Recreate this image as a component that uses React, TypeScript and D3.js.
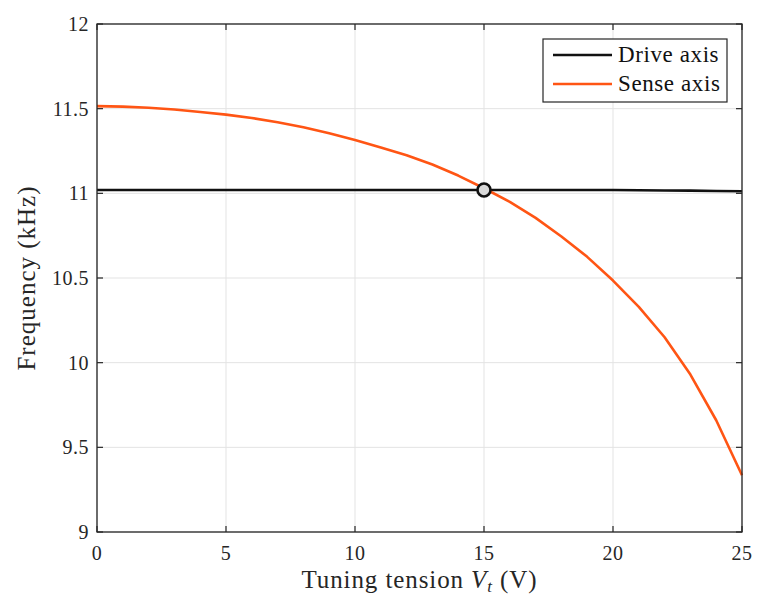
import React from "react";
import * as d3 from "d3";

const voltages = [0,1,2,3,4,5,6,7,8,9,10,11,12,13,14,15,16,17,18,19,20,21,22,23,24,25];
const senseFreq = [11.515,11.512,11.505,11.495,11.48,11.465,11.445,11.42,11.39,11.355,11.315,11.27,11.225,11.17,11.105,11.03,10.95,10.855,10.745,10.625,10.485,10.33,10.15,9.93,9.66,9.335];
const driveFreq = [11.02,11.02,11.02,11.02,11.02,11.02,11.02,11.02,11.02,11.02,11.02,11.02,11.02,11.02,11.02,11.02,11.02,11.02,11.02,11.02,11.02,11.018,11.017,11.016,11.014,11.012];
const xTicks = [0,5,10,15,20,25];
const yTicks = [9,9.5,10,10.5,11,11.5,12];
const crossing = { v: 15, f: 11.02 };
const seriesNames = ["Drive axis", "Sense axis"];

const W = 757, H = 601;
const L = 97, R = 742, T = 24, B = 532;
const FONT = "'Liberation Serif', 'DejaVu Serif', serif";

export default function App() {
  const x = d3.scaleLinear().domain([0, 25]).range([L, R]);
  const y = d3.scaleLinear().domain([9, 12]).range([B, T]);
  const line = d3.line<number>().x((_, i) => x(voltages[i])).y(d => y(d));
  const tickLen = 6;
  const axisColor = "#262626";
  return (
    <svg width={W} height={H} style={{ position: "absolute", left: 0, top: 0, background: "#fff" }}>
      {xTicks.map(t => (
        <line key={"gx" + t} x1={x(t)} x2={x(t)} y1={T} y2={B} stroke="#e3e3e3" strokeWidth={1} />
      ))}
      {yTicks.map(t => (
        <line key={"gy" + t} x1={L} x2={R} y1={y(t)} y2={y(t)} stroke="#e3e3e3" strokeWidth={1} />
      ))}
      <path d={line(driveFreq) || ""} fill="none" stroke="#111" strokeWidth={2.6} />
      <path d={line(senseFreq) || ""} fill="none" stroke="#ff5514" strokeWidth={2.6} strokeLinejoin="round" />
      <circle cx={x(crossing.v)} cy={y(crossing.f)} r={6.5} fill="#d9d9d9" stroke="#111" strokeWidth={2.6} />
      {xTicks.map(t => (
        <g key={"tx" + t}>
          <line x1={x(t)} x2={x(t)} y1={B} y2={B - tickLen} stroke={axisColor} strokeWidth={1.2} />
          <line x1={x(t)} x2={x(t)} y1={T} y2={T + tickLen} stroke={axisColor} strokeWidth={1.2} />
          <text x={x(t)} y={B + 28} textAnchor="middle" fontFamily={FONT} fontSize={20} letterSpacing={0.5} fill="#262626">{t}</text>
        </g>
      ))}
      {yTicks.map(t => (
        <g key={"ty" + t}>
          <line x1={L} x2={L + tickLen} y1={y(t)} y2={y(t)} stroke={axisColor} strokeWidth={1.2} />
          <line x1={R} x2={R - tickLen} y1={y(t)} y2={y(t)} stroke={axisColor} strokeWidth={1.2} />
          <text x={L - 8} y={y(t) + 7} textAnchor="end" fontFamily={FONT} fontSize={20} letterSpacing={0.5} fill="#262626">{t}</text>
        </g>
      ))}
      <rect x={L} y={T} width={R - L} height={B - T} fill="none" stroke={axisColor} strokeWidth={1.3} />
      <text x={(L + R) / 2} y={588} textAnchor="middle" fontFamily={FONT} fontSize={25} letterSpacing={0.9} fill="#262626">
        Tuning tension <tspan fontStyle="italic">V</tspan><tspan fontStyle="italic" fontSize={17} dy={4}>t</tspan><tspan dy={-4}> (V)</tspan>
      </text>
      <text transform={`translate(35,${(T + B) / 2}) rotate(-90)`} textAnchor="middle" fontFamily={FONT} fontSize={25} letterSpacing={1} fill="#262626">
        Frequency (kHz)
      </text>
      <g>
        <rect x={543} y={39} width={184} height={63} fill="#fff" stroke={axisColor} strokeWidth={1.2} />
        <line x1={553} x2={612} y1={55} y2={55} stroke="#111" strokeWidth={2.6} />
        <text x={618} y={62} fontFamily={FONT} fontSize={23} letterSpacing={0.6} fill="#111">{seriesNames[0]}</text>
        <line x1={553} x2={612} y1={84} y2={84} stroke="#ff5514" strokeWidth={2.6} />
        <text x={618} y={91} fontFamily={FONT} fontSize={23} letterSpacing={0.6} fill="#111">{seriesNames[1]}</text>
      </g>
    </svg>
  );
}
